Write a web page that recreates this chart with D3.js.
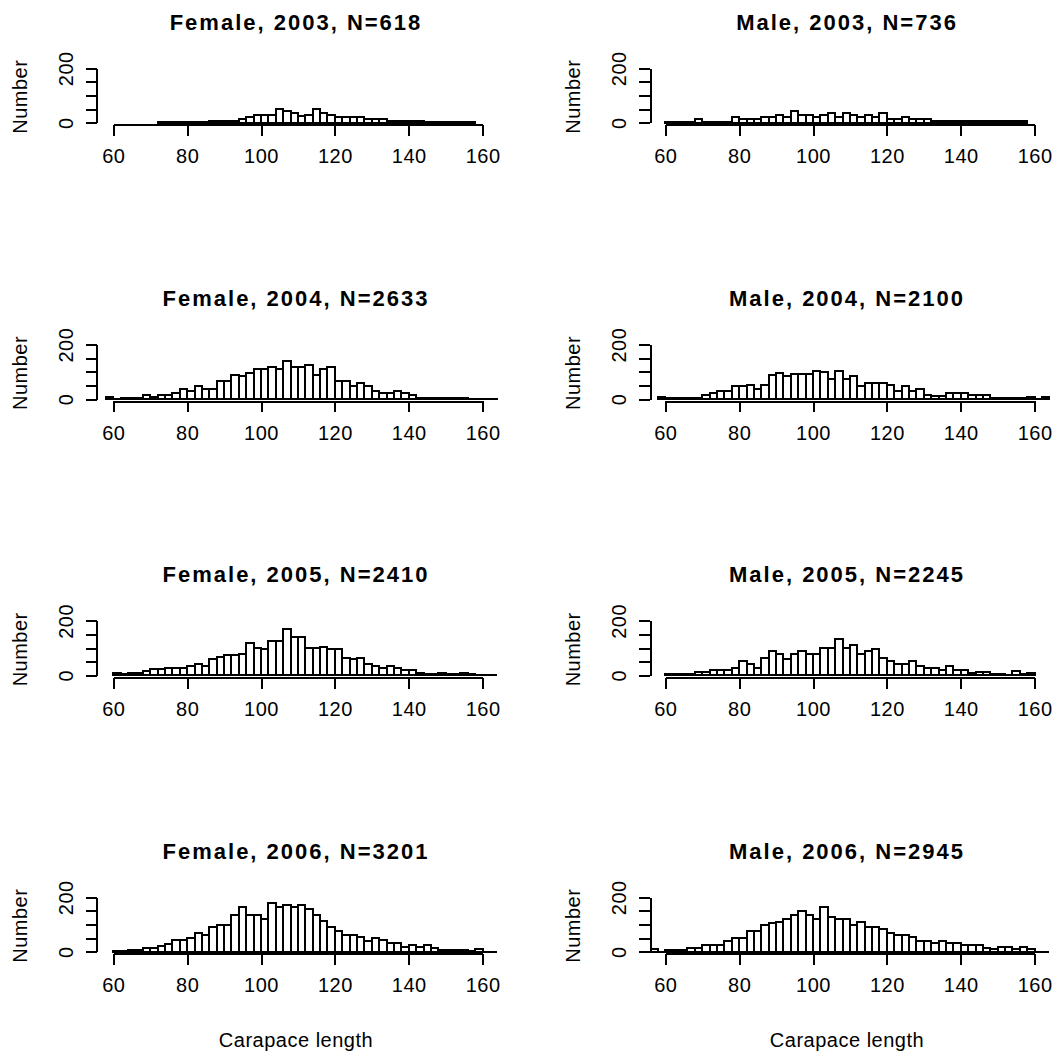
<!DOCTYPE html>
<html>
<head>
<meta charset="utf-8">
<script src="https://cdn.jsdelivr.net/npm/d3@7"></script>
<style>
  body { margin: 0; background: #fff; }
  text { font-family: "Liberation Sans", Arial, sans-serif; fill: #000; }
</style>
</head>
<body>
<div id="chart"></div>
<script>
// panels: rows are years, columns are sex
const years = [2003, 2004, 2005, 2006];
const sexes = ["Female", "Male"];
const femaleN = [618, 2633, 2410, 3201];
const maleN = [736, 2100, 2245, 2945];

// first bin (lower edge) of every histogram, bins are 2 units wide
const binWidth = 2;
const femaleStart = [72, 58, 60, 60];
const maleStart = [60, 58, 60, 56];

// counts per bin
const female2003 = [2, 2, 2, 2, 2, 2, 2, 5, 5, 5, 5, 12, 22, 28, 28, 28, 50, 44, 34, 26, 28, 50, 37, 28, 20, 20, 20, 20, 13, 13, 13, 5, 5, 5, 5, 5, 2, 2, 2, 2, 2, 2, 2];
const male2003 = [2, 2, 2, 2, 15, 3, 3, 3, 3, 22, 13, 13, 13, 20, 20, 27, 20, 43, 27, 27, 20, 28, 34, 22, 34, 28, 20, 28, 22, 34, 13, 13, 22, 13, 13, 13, 6, 6, 6, 6, 6, 6, 6, 6, 6, 6, 6, 6, 6];
const female2004 = [7, 1, 5, 5, 5, 15, 7, 15, 15, 21, 37, 28, 46, 37, 37, 67, 67, 88, 83, 95, 110, 110, 118, 110, 141, 118, 118, 125, 88, 110, 118, 67, 67, 48, 58, 46, 28, 21, 21, 28, 21, 15, 4, 4, 4, 4, 4, 4, 4, 1, 1, 1, 1];
const male2004 = [7, 2, 5, 5, 5, 5, 15, 21, 28, 28, 46, 46, 52, 37, 52, 88, 95, 83, 93, 93, 93, 104, 98, 75, 104, 75, 83, 46, 58, 58, 58, 52, 28, 46, 28, 37, 15, 11, 11, 21, 21, 21, 15, 15, 15, 4, 4, 4, 4, 2, 7, 1, 7];
const female2005 = [9, 3, 9, 9, 15, 22, 22, 28, 28, 28, 36, 43, 36, 59, 68, 73, 73, 80, 117, 102, 95, 126, 126, 169, 140, 140, 102, 99, 104, 96, 96, 65, 59, 65, 43, 36, 28, 36, 28, 19, 21, 9, 6, 4, 9, 4, 3, 9, 3, 1, 0, 0];
const male2005 = [5, 5, 5, 5, 11, 11, 19, 19, 19, 27, 51, 43, 28, 65, 89, 80, 59, 80, 89, 80, 80, 102, 102, 133, 102, 110, 80, 89, 96, 65, 51, 43, 43, 51, 36, 28, 28, 21, 36, 21, 21, 9, 11, 11, 6, 6, 1, 14, 4, 9];
const female2006 = [3, 3, 6, 6, 15, 15, 21, 27, 43, 43, 52, 67, 60, 90, 97, 97, 134, 163, 134, 134, 119, 178, 163, 170, 166, 170, 157, 134, 113, 90, 75, 60, 60, 53, 38, 52, 43, 31, 31, 17, 23, 17, 23, 15, 6, 6, 6, 6, 2, 9, 0, 0];
const male2006 = [9, 0, 5, 5, 5, 15, 15, 23, 23, 23, 38, 52, 52, 75, 75, 97, 104, 110, 119, 134, 150, 134, 120, 163, 126, 119, 119, 97, 110, 90, 90, 82, 67, 60, 60, 53, 38, 38, 31, 38, 31, 31, 23, 23, 23, 15, 9, 17, 17, 9, 17, 9, 0, 0];

const femaleCounts = [female2003, female2004, female2005, female2006];
const maleCounts = [male2003, male2004, male2005, male2006];

const xTicks = [60, 80, 100, 120, 140, 160];
const yTicks = [0, 50, 100, 150, 200];
const yLabelled = [0, 200];

// layout
const w = 1064, h = 1057;
const rowBase = [122.7, 399, 675.3, 951.7];   // pixel row of count 0
const colX0 = [113.3, 665.3];                  // pixel of length 60
const colAxis = [96.7, 650.3];                 // y axis position
const colMid = [296, 847];
const pxPerUnit = 3.693;
const pxPer200 = 54.4;
const lw = 2;

const svg = d3.select("#chart").append("svg")
  .attr("width", w)
  .attr("height", h);

svg.append("rect").attr("width", w).attr("height", h).attr("fill", "#fff");

sexes.forEach(function(sex, c) {
  years.forEach(function(year, r) {
    const counts = c === 0 ? femaleCounts[r] : maleCounts[r];
    const start = c === 0 ? femaleStart[r] : maleStart[r];
    const n = c === 0 ? femaleN[r] : maleN[r];
    const base = rowBase[r];

    const x = d3.scaleLinear()
      .domain([60, 160])
      .range([colX0[c], colX0[c] + 100 * pxPerUnit]);
    const y = d3.scaleLinear()
      .domain([0, 200])
      .range([base, base - pxPer200]);

    const g = svg.append("g");

    // bars (zero height ones still draw a line, like R)
    g.selectAll("path.bar")
      .data(counts)
      .enter()
      .append("path")
      .attr("class", "bar")
      .attr("d", function(d, i) {
        const x0 = x(start + i * binWidth), x1 = x(start + (i + 1) * binWidth);
        return "M" + x0 + "," + y(0) + "V" + y(d) + "H" + x1 + "V" + y(0) + "Z";
      })
      .attr("fill", "#fff")
      .attr("stroke", "#000")
      .attr("stroke-width", lw)
      .attr("shape-rendering", "crispEdges");

    // x axis, sits a little below zero (R's 4% padding)
    const xAxis = d3.axisBottom(x).tickValues(xTicks).tickSize(11).tickSizeOuter(0).tickPadding(0);
    const gx = g.append("g")
      .attr("transform", "translate(0," + (base + 2.2) + ")")
      .call(xAxis);
    gx.selectAll("path, line").attr("stroke", "#000").attr("stroke-width", lw).attr("shape-rendering", "crispEdges");
    gx.selectAll("text")
      .attr("y", 38.4).attr("dy", null)
      .style("font-size", "20px")
      .style("letter-spacing", "0.5px")
      .attr("fill", "#000");

    // y axis with rotated labels, only 0 and 200 labelled
    const yAxis = d3.axisLeft(y).tickValues(yTicks).tickSize(11).tickSizeOuter(0)
      .tickFormat(function(d) { return yLabelled.indexOf(d) >= 0 ? d : ""; });
    const gy = g.append("g")
      .attr("transform", "translate(" + colAxis[c] + ",0)")
      .call(yAxis);
    gy.selectAll("path, line").attr("stroke", "#000").attr("stroke-width", lw).attr("shape-rendering", "crispEdges");
    gy.selectAll("text")
      .attr("x", 0).attr("y", 0).attr("dy", "0.35em")
      .attr("transform", "translate(-31,0) rotate(-90)")
      .attr("text-anchor", "middle")
      .style("font-size", "20px")
      .style("letter-spacing", "0.5px")
      .attr("fill", "#000");

    // y label
    g.append("text")
      .attr("transform", "translate(" + (colAxis[c] - 77) + "," + (base - 26) + ") rotate(-90)")
      .attr("text-anchor", "middle")
      .attr("dy", "0.35em")
      .style("font-size", "20px")
      .style("letter-spacing", "0.5px")
      .text("Number");

    // title
    g.append("text")
      .attr("x", colMid[c])
      .attr("y", base - 93)
      .attr("text-anchor", "middle")
      .style("font-size", "22px")
      .style("font-weight", "bold")
      .style("letter-spacing", "2px")
      .text(sex + ", " + year + ", N=" + n);

    // x label on the bottom row only
    if (r === years.length - 1) {
      g.append("text")
        .attr("x", colMid[c])
        .attr("y", 1046.5)
        .attr("text-anchor", "middle")
        .style("font-size", "20px")
        .style("letter-spacing", "0.5px")
        .text("Carapace length");
    }
  });
});
</script>
</body>
</html>
